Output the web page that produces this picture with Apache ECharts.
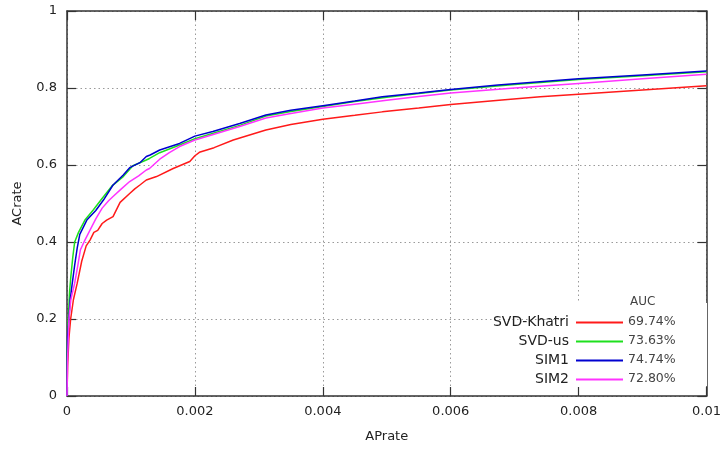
<!DOCTYPE html>
<html>
<head>
<meta charset="utf-8">
<script src="https://cdn.jsdelivr.net/npm/echarts@6/dist/echarts.min.js"></script>
<style>
html,body{margin:0;padding:0;background:#fff;}
#chart{width:724px;height:455px;}
</style>
</head>
<body>
<div id="chart"></div>
<script>
// ---- data ----
var seriesNames = ['SVD-Khatri', 'SVD-us', 'SIM1', 'SIM2'];
var aucValues = ['69.74%', '73.63%', '74.74%', '72.80%'];
var xTicks = [0, 0.002, 0.004, 0.006, 0.008, 0.01];
var yTicks = [0, 0.2, 0.4, 0.6, 0.8, 1];

var svdKhatri = [
  [0,0],[0.00001,0.08],[0.00003,0.15],[0.000057,0.2],[0.0001,0.25],[0.00016,0.293],
  [0.00023,0.35],[0.0003,0.39],[0.00036,0.405],[0.00042,0.425],[0.00048,0.43],
  [0.00055,0.448],[0.00062,0.457],[0.00072,0.466],[0.00083,0.503],[0.00098,0.526],
  [0.00106,0.538],[0.00114,0.548],[0.00124,0.561],[0.0014,0.570],[0.00166,0.591],
  [0.00192,0.609],[0.002,0.624],[0.00207,0.633],[0.0023,0.645],[0.0026,0.665],
  [0.00311,0.691],[0.0035,0.705],[0.004,0.719],[0.0045,0.729],[0.00493,0.738],
  [0.0055,0.748],[0.006,0.757],[0.0068,0.769],[0.0074,0.777],[0.008,0.784],
  [0.009,0.795],[0.01,0.806]
];
var svdUs = [
  [0,0],[0.000005,0.12],[0.00002,0.2],[0.00004,0.27],[0.00006,0.31],[0.00009,0.36],
  [0.00012,0.4],[0.00018,0.425],[0.00028,0.457],[0.00041,0.483],[0.00053,0.509],
  [0.0007,0.545],[0.00088,0.57],[0.00103,0.598],[0.00124,0.613],[0.00129,0.617],
  [0.00145,0.632],[0.00176,0.652],[0.002,0.668],[0.0023,0.683],[0.0027,0.703],
  [0.00311,0.727],[0.0035,0.739],[0.004,0.752],[0.0045,0.765],[0.005,0.776],
  [0.0055,0.786],[0.006,0.795],[0.007,0.809],[0.008,0.822],[0.009,0.832],[0.01,0.842]
];
var sim1 = [
  [0,0],[0.000005,0.1],[0.00001,0.155],[0.00003,0.2],[0.00005,0.25],[0.00008,0.29],
  [0.00012,0.34],[0.00016,0.385],[0.0002,0.42],[0.00031,0.457],[0.00045,0.482],
  [0.00057,0.509],[0.00072,0.548],[0.00088,0.574],[0.00098,0.593],[0.00114,0.606],
  [0.00124,0.622],[0.0013,0.626],[0.00145,0.639],[0.00176,0.656],[0.002,0.675],
  [0.00228,0.687],[0.0027,0.708],[0.00311,0.73],[0.0035,0.742],[0.004,0.754],
  [0.0045,0.766],[0.00493,0.777],[0.0055,0.787],[0.006,0.796],[0.00674,0.808],
  [0.008,0.824],[0.009,0.834],[0.01,0.844]
];
var sim2 = [
  [0,0],[0.00001,0.1],[0.00003,0.2],[0.00006,0.25],[0.00012,0.293],[0.00017,0.34],
  [0.00021,0.38],[0.00028,0.405],[0.00036,0.431],[0.00045,0.46],[0.00055,0.488],
  [0.00065,0.507],[0.00072,0.518],[0.00085,0.538],[0.00098,0.557],[0.00112,0.572],
  [0.00124,0.587],[0.00129,0.591],[0.00145,0.615],[0.0016,0.632],[0.00176,0.648],
  [0.002,0.665],[0.0023,0.68],[0.0027,0.70],[0.00311,0.722],[0.0035,0.734],
  [0.004,0.748],[0.0045,0.758],[0.005,0.768],[0.0055,0.778],[0.006,0.787],
  [0.007,0.8],[0.008,0.812],[0.009,0.824],[0.01,0.836]
];
var seriesData = [svdKhatri, svdUs, sim1, sim2];
var colors = ['#ff1a1a', '#1ee01e', '#0000d0', '#ff33ff'];

// ---- chart ----
var chart = echarts.init(document.getElementById('chart'), null, {renderer: 'canvas'});
var font = 'DejaVu Sans';
var gridCfg = {left: 67, right: 15, top: 11, bottom: 59};
var xMin = xTicks[0], xMax = xTicks[xTicks.length - 1], xStep = xTicks[1] - xTicks[0];
var yMin = yTicks[0], yMax = yTicks[yTicks.length - 1], yStep = yTicks[1] - yTicks[0];

function fmt(v) { return String(+v.toFixed(4)); }

var frameColor = '#333';
var option = {
  animation: false,
  backgroundColor: '#fff',
  grid: Object.assign({show: false}, gridCfg),
  xAxis: [{
    type: 'value', min: xMin, max: xMax, interval: xStep, position: 'bottom',
    name: 'APrate', nameLocation: 'middle', nameGap: 34,
    nameTextStyle: {fontFamily: font, fontSize: 13, color: '#222'},
    axisLine: {show: true, onZero: false, lineStyle: {color: frameColor, width: 1.5}},
    axisTick: {show: true, inside: true, length: 9, lineStyle: {color: frameColor, width: 1.2}},
    axisLabel: {fontFamily: font, fontSize: 13, color: '#222', margin: 9, formatter: fmt},
    splitLine: {show: true, lineStyle: {color: '#9a9a9a', type: [1.5, 3], width: 1}}
  }, {
    type: 'value', min: xMin, max: xMax, interval: xStep, position: 'top',
    axisLine: {show: true, onZero: false, lineStyle: {color: frameColor, width: 1.5}},
    axisTick: {show: true, inside: true, length: 9, lineStyle: {color: frameColor, width: 1.2}},
    axisLabel: {show: false}, splitLine: {show: false}
  }],
  yAxis: [{
    type: 'value', min: yMin, max: yMax, interval: yStep, position: 'left',
    name: 'ACrate', nameLocation: 'middle', nameGap: 43, nameRotate: 90,
    nameTextStyle: {fontFamily: font, fontSize: 13, color: '#222'},
    axisLine: {show: true, onZero: false, lineStyle: {color: frameColor, width: 1.5}},
    axisTick: {show: true, inside: true, length: 9, lineStyle: {color: frameColor, width: 1.2}},
    axisLabel: {fontFamily: font, fontSize: 13, color: '#222', margin: 10, formatter: fmt},
    splitLine: {show: true, lineStyle: {color: '#9a9a9a', type: [1.5, 3], width: 1}}
  }, {
    type: 'value', min: yMin, max: yMax, interval: yStep, position: 'right',
    axisLine: {show: true, onZero: false, lineStyle: {color: frameColor, width: 1.5}},
    axisTick: {show: true, inside: true, length: 9, lineStyle: {color: frameColor, width: 1.2}},
    axisLabel: {show: false}, splitLine: {show: false}
  }],
  legend: {
    orient: 'vertical', align: 'right', right: 101, top: 313, padding: 0,
    itemGap: 0, itemWidth: 47, itemHeight: 2, icon: 'rect',
    textStyle: {fontFamily: font, fontSize: 14, color: '#222', lineHeight: 19, padding: [0, 2, 0, 0]},
    data: seriesNames.slice()
  },
  graphic: [
    {type: 'rect', z: 1, silent: true, shape: {x: 453, y: 321, width: 254, height: 65}, style: {fill: '#fff'}},
    {type: 'rect', z: 1, silent: true, shape: {x: 565, y: 303, width: 142, height: 19}, style: {fill: '#fff'}},
    {type: 'text', z: 5, left: 630, top: 296, style: {text: 'AUC', fontFamily: font, fontSize: 12, fill: '#444'}}
  ].concat(aucValues.map(function (v, i) {
    return {type: 'text', z: 5, left: 628, top: 315 + i * 19,
      style: {text: v, fontFamily: font, fontSize: 12.5, fill: '#444'}};
  })),
  series: seriesNames.map(function (n, i) {
    return {
      name: n, type: 'line', data: seriesData[i], showSymbol: false, symbol: 'none',
      xAxisIndex: 0, yAxisIndex: 0, z: 3 + i,
      itemStyle: {color: colors[i]},
      lineStyle: {color: colors[i], width: 1.5}
    };
  })
};
chart.setOption(option);
</script>
</body>
</html>
